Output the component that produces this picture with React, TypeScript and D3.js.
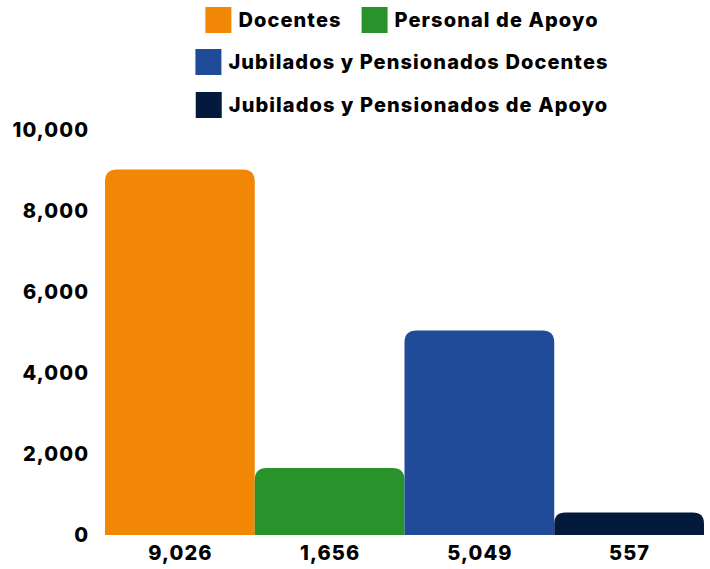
import React, { useEffect, useRef } from "react";
import * as d3 from "d3";

const categories = ["Docentes", "Personal de Apoyo", "Jubilados y Pensionados Docentes", "Jubilados y Pensionados de Apoyo"];
const values = [9026, 1656, 5049, 557];
const colors = ["#F28705", "#2A922A", "#1F4B99", "#041A3D"];
const yTicks = [0, 2000, 4000, 6000, 8000, 10000];
const legendRows = [[0, 1], [2], [3]];

const W = 710;
const H = 569;
const FONT = "Inter, 'Liberation Sans', Arial, sans-serif";
const FS = 20;
const LS = 1.1;
const FW = 800;

export default function App() {
  const ref = useRef<SVGSVGElement>(null);

  useEffect(() => {
    const svg = d3.select(ref.current);
    svg.selectAll("*").remove();

    const x = d3.scaleBand<string>().domain(categories).range([105, 704]).padding(0);
    const y = d3.scaleLinear().domain([0, 10000]).range([535, 130]);
    const fmt = d3.format(",");
    const r = 12;

    svg
      .append("g")
      .selectAll("path")
      .data(values)
      .join("path")
      .attr("fill", (_, i) => colors[i])
      .attr("d", (v, i) => {
        const x0 = x(categories[i])!;
        const x1 = x0 + x.bandwidth();
        const y0 = y(0);
        const y1 = y(v);
        const rr = Math.min(r, (y0 - y1) / 2);
        const p = d3.path();
        p.moveTo(x0, y0);
        p.lineTo(x0, y1 + rr);
        p.quadraticCurveTo(x0, y1, x0 + rr, y1);
        p.lineTo(x1 - rr, y1);
        p.quadraticCurveTo(x1, y1, x1, y1 + rr);
        p.lineTo(x1, y0);
        p.closePath();
        return p.toString();
      });

    const style = (sel: any) =>
      sel
        .attr("font-family", FONT)
        .attr("font-weight", FW)
        .attr("font-size", FS)
        .attr("letter-spacing", LS)
        .attr("fill", "#000");

    svg
      .append("g")
      .selectAll("text")
      .data(yTicks)
      .join("text")
      .attr("x", 88 + LS)
      .attr("y", (d) => y(d))
      .attr("dy", "0.36em")
      .attr("text-anchor", "end")
      .call(style)
      .text((d) => fmt(d));

    svg
      .append("g")
      .selectAll("text")
      .data(values)
      .join("text")
      .attr("x", (_, i) => x(categories[i])! + x.bandwidth() / 2 + LS / 2)
      .attr("y", 553)
      .attr("dy", "0.36em")
      .attr("text-anchor", "middle")
      .call(style)
      .text((d) => fmt(d));

    const rowY = [20, 62, 105];
    const sq = 26;
    const gap = 7;
    const itemGap = 20;
    const cx = 402;
    legendRows.forEach((row, ri) => {
      const g = svg.append("g");
      const items = row.map((ci) => {
        const ig = g.append("g");
        ig.append("rect")
          .attr("width", sq)
          .attr("height", sq)
          .attr("y", rowY[ri] - sq / 2)
          .attr("fill", colors[ci]);
        const t = ig
          .append("text")
          .attr("x", sq + gap)
          .attr("y", rowY[ri])
          .attr("dy", "0.36em")
          .call(style)
          .text(categories[ci]);
        const tw = (t.node() as SVGTextElement).getComputedTextLength();
        return { ig, w: sq + gap + tw };
      });
      const total = d3.sum(items, (d) => d.w) + itemGap * (items.length - 1);
      let xPos = cx - total / 2;
      items.forEach((it) => {
        it.ig.attr("transform", `translate(${xPos},0)`);
        xPos += it.w + itemGap;
      });
    });
  }, []);

  return (
    <svg
      ref={ref}
      width={W}
      height={H}
      style={{ position: "absolute", left: 0, top: 0, background: "#fff" }}
    />
  );
}
